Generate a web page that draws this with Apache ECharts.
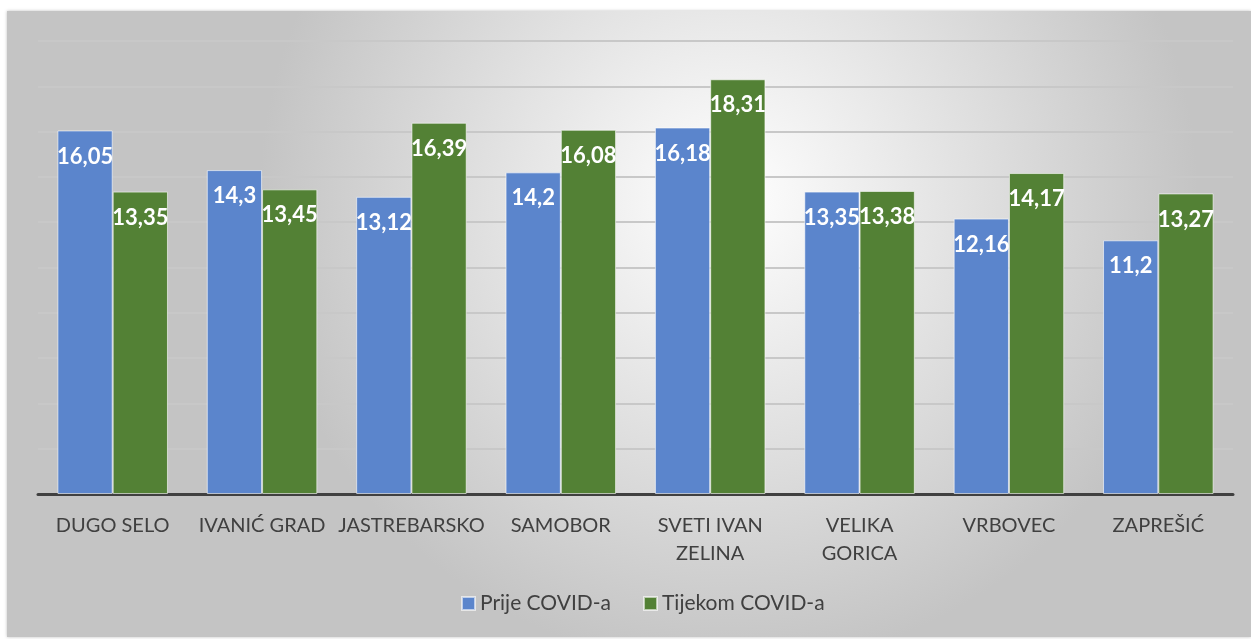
<!DOCTYPE html>
<html>
<head>
<meta charset="utf-8">
<script src="https://cdn.jsdelivr.net/npm/echarts@6/dist/echarts.min.js"></script>
<style>
  html, body { margin: 0; padding: 0; background: #fff; }
  #chart { width: 1251px; height: 639px; }
</style>
</head>
<body>
<div id="chart"></div>
<script>
const categories = ['DUGO SELO', 'IVANIĆ GRAD', 'JASTREBARSKO', 'SAMOBOR', 'SVETI IVAN\nZELINA', 'VELIKA\nGORICA', 'VRBOVEC', 'ZAPREŠIĆ']
const prijeCovid = [16.05, 14.3, 13.12, 14.2, 16.18, 13.35, 12.16, 11.2]
const tijekomCovid = [13.35, 13.45, 16.39, 16.08, 18.31, 13.38, 14.17, 13.27]
const seriesNames = ['Prije COVID-a', 'Tijekom COVID-a']

const myChart = echarts.init(document.getElementById('chart'))

// decimal comma like the original
const fmt = p => String(p.value).replace('.', ',')

const barLabel = {
  show: true,
  position: 'insideTop',
  distance: 15,
  color: '#fff',
  fontFamily: 'Lato',
  fontWeight: 'bold',
  fontSize: 22,
  formatter: fmt,
}

const option = {
  animation: false,
  textStyle: { fontFamily: 'Lato' },
  graphic: [
    {
      type: 'rect',
      z: -10,
      shape: { x: 7, y: 11, width: 1244, height: 626 },
      style: {
        fill: {
          type: 'radial',
          x: 0.58,
          y: 0.3,
          r: 0.75,
          colorStops: [
            { offset: 0, color: '#ffffff' },
            { offset: 1, color: '#c4c4c4' },
          ],
        },
        shadowColor: 'rgba(0,0,0,0.25)',
        shadowBlur: 3,
      },
    },
  ],
  grid: {
    left: 38,
    right: 18,
    top: 41,
    bottom: 145,
  },
  legend: {
    bottom: 20,
    left: 456,
    itemWidth: 13,
    itemHeight: 13,
    itemGap: 32,
    icon: 'rect',
    textStyle: { fontSize: 21, color: '#404040', fontFamily: 'Lato' },
    data: seriesNames,
  },
  xAxis: {
    type: 'category',
    data: categories,
    axisLine: { lineStyle: { color: '#404040', width: 3 } },
    axisTick: { show: false },
    axisLabel: {
      color: '#404040',
      fontSize: 20,
      lineHeight: 28,
      margin: 18,
      interval: 0,
      fontFamily: 'Lato',
    },
  },
  yAxis: {
    type: 'value',
    min: 0,
    max: 20,
    interval: 2,
    axisLabel: { show: false },
    axisLine: { show: false },
    axisTick: { show: false },
    splitLine: { lineStyle: { color: '#c8c8c8', width: 2 } },
  },
  series: [
    {
      name: seriesNames[0],
      type: 'bar',
      data: prijeCovid,
      barGap: '0%',
      barCategoryGap: '26%',
      itemStyle: { color: '#5b85cc', borderColor: 'rgba(255,255,255,0.6)', borderWidth: 1 },
      label: barLabel,
    },
    {
      name: seriesNames[1],
      type: 'bar',
      data: tijekomCovid,
      itemStyle: { color: '#538135', borderColor: 'rgba(255,255,255,0.6)', borderWidth: 1 },
      label: barLabel,
    },
  ],
}

myChart.setOption(option)
</script>
</body>
</html>
